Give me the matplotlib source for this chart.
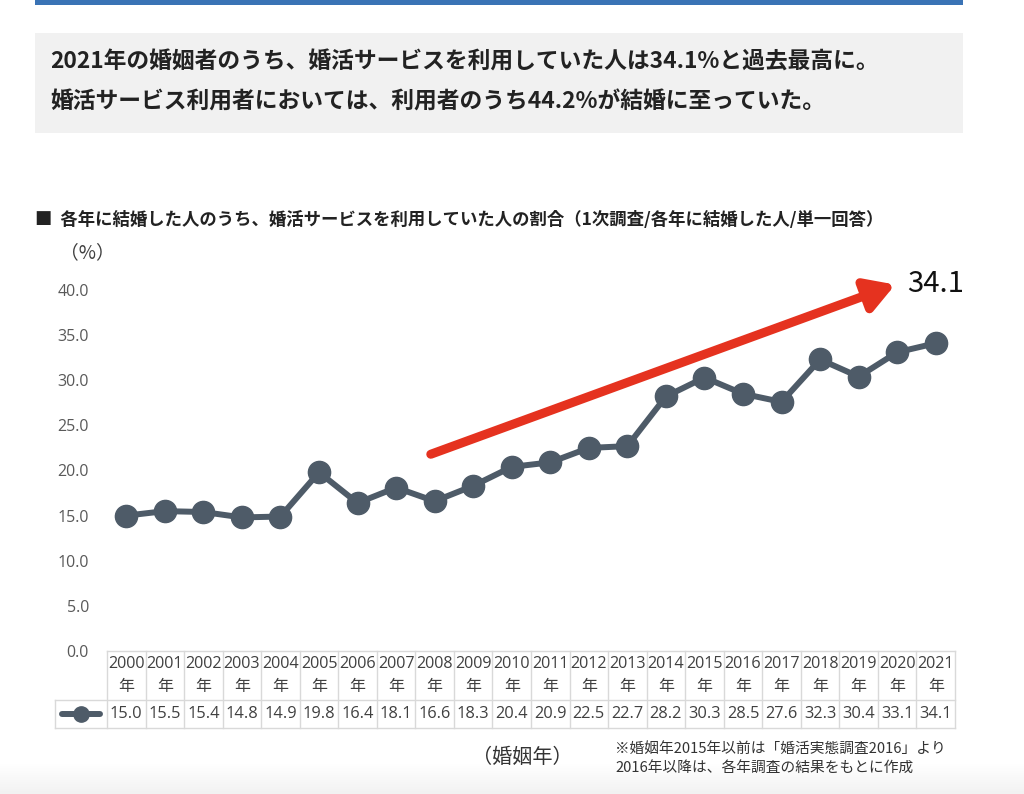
import matplotlib
matplotlib.use("Agg")
import matplotlib.pyplot as plt
import numpy as np
from matplotlib.patches import Rectangle

plt.rcParams['font.family'] = ['Noto Sans CJK JP', 'DejaVu Sans']

years = list(range(2000, 2022))
values = [15.0, 15.5, 15.4, 14.8, 14.9, 19.8, 16.4, 18.1, 16.6, 18.3, 20.4,
          20.9, 22.5, 22.7, 28.2, 30.3, 28.5, 27.6, 32.3, 30.4, 33.1, 34.1]
yticks = [0, 5, 10, 15, 20, 25, 30, 35, 40]
headline = ["2021年の婚姻者のうち、婚活サービスを利用していた人は34.1%と過去最高に。",
            "婚活サービス利用者においては、利用者のうち44.2%が結婚に至っていた。"]
subtitle = "■  各年に結婚した人のうち、婚活サービスを利用していた人の割合（1次調査/各年に結婚した人/単一回答）"
note = ["※婚姻年2015年以前は「婚活実態調査2016」より", "2016年以降は、各年調査の結果をもとに作成"]

W, H = 1024, 794
fig = plt.figure(figsize=(W / 100, H / 100), dpi=100)
fig.patch.set_facecolor('white')

def fx(px):
    return px / W

def fy(py):
    return 1 - py / H

# top blue bar
fig.add_artist(Rectangle((fx(35), fy(5)), fx(928), 5 / H, transform=fig.transFigure,
                         facecolor='#3a73b5', edgecolor='none'))
# headline box
fig.add_artist(Rectangle((fx(35), fy(133)), fx(928), 100 / H, transform=fig.transFigure,
                         facecolor='#f1f1f1', edgecolor='none'))
fig.text(fx(50), fy(62), headline[0], fontsize=16.4, fontweight='bold', color='#222222',
         va='center', ha='left')
fig.text(fx(50), fy(102), headline[1], fontsize=16.4, fontweight='bold', color='#222222',
         va='center', ha='left')

fig.text(fx(35), fy(220), subtitle, fontsize=12.5, fontweight='bold', color='#222222',
         va='center', ha='left')
fig.text(fx(60), fy(253), "（%）", fontsize=13.5, color='#404040', va='center', ha='left')

# main axes
left, right, top, bottom = 107, 955, 290, 651
ax = fig.add_axes([fx(left), fy(bottom), fx(right - left), (bottom - top) / H])
n = len(years)
xs = np.arange(n)
line_color = '#4e5b68'
ax.plot(xs, values, color=line_color, lw=4.3, marker='o', ms=16,
        markerfacecolor=line_color, markeredgecolor=line_color, zorder=3, clip_on=False)
ax.set_xlim(-0.5, n - 0.5)
ax.set_ylim(0, 40)
ax.set_yticks(yticks)
ax.set_yticklabels([f"{v:.1f}" for v in yticks], fontsize=11.5, color='#595959',
                   fontfamily=['Open Sans', 'DejaVu Sans'])
ax.tick_params(axis='y', length=0, pad=13)
ax.set_xticks([])
for s in ax.spines.values():
    s.set_visible(False)
ax.patch.set_alpha(0)

# red trend arrow
ax.annotate("", xy=(19.95, 40.6), xytext=(7.9, 21.8), xycoords='data', textcoords='data',
            arrowprops=dict(arrowstyle='-|>,head_length=1.7,head_width=1.0', color='#e5321f',
                            lw=6.5, shrinkA=0, shrinkB=0), annotation_clip=False, zorder=4)
ax.text(20.25, 40.7, f"{values[-1]:.1f}", fontsize=21, color='#111111', va='center', ha='left',
        clip_on=False)

# data table below
tab = fig.add_axes([fx(left), fy(728), fx(right - left), (728 - 651) / H])
tab.set_xlim(-0.5, n - 0.5)
tab.set_ylim(77, 0)
tab.axis('off')
grid_c = '#d9d9d9'
leg_w = (left - 55) / ((right - left) / n)
tab.plot([-0.5, n - 0.5], [0, 0], color=grid_c, lw=1, clip_on=False)
tab.plot([-0.5 - leg_w, n - 0.5], [49, 49], color=grid_c, lw=1, clip_on=False)
tab.plot([-0.5 - leg_w, n - 0.5], [77, 77], color=grid_c, lw=1, clip_on=False)
for i in range(n + 1):
    tab.plot([i - 0.5, i - 0.5], [0, 77], color=grid_c, lw=1, clip_on=False)
tab.plot([-0.5 - leg_w, -0.5 - leg_w], [49, 77], color=grid_c, lw=1, clip_on=False)
tcol = '#404040'
for i, (yr, v) in enumerate(zip(years, values)):
    tab.text(i, 13, str(yr), ha='center', va='center', fontsize=11.6, color=tcol,
             fontfamily=['Open Sans', 'Noto Sans CJK JP'])
    tab.text(i, 35, "年", ha='center', va='center', fontsize=11.5, color=tcol)
    tab.text(i, 63, f"{v:.1f}", ha='center', va='center', fontsize=11.8, color=tcol,
             fontfamily=['Open Sans', 'Noto Sans CJK JP'])
lx = -0.5 - leg_w / 2
tab.plot([lx - 0.5, lx + 0.5], [63, 63], color=line_color, lw=4.3, clip_on=False,
         solid_capstyle='round')
tab.plot([lx], [63], marker='o', ms=11, color=line_color, clip_on=False)

# footer
fig.text(fx(522), fy(757), "（婚姻年）", fontsize=14.5, color='#333333', ha='center', va='center')
fig.text(fx(615), fy(749), note[0], fontsize=10.6, color='#333333', ha='left', va='center')
fig.text(fx(615), fy(769), note[1], fontsize=10.6, color='#333333', ha='left', va='center')

# bottom gradient (white to light grey)
gax = fig.add_axes([0, 0, 1, 30 / H], zorder=-1)
grad = np.linspace(0, 1, 60).reshape(-1, 1)
gax.imshow(grad, aspect='auto', cmap='Greys', vmin=0, vmax=9, extent=[0, 1, 0, 1],
           interpolation='bilinear')
gax.axis('off')

fig.savefig("out.png", dpi=100, facecolor='white')
